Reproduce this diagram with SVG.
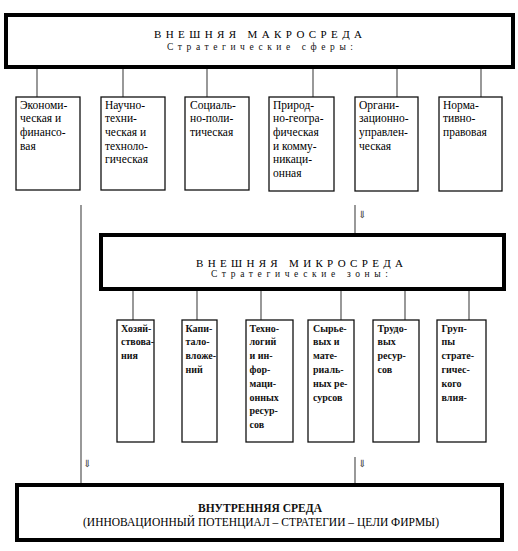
<svg xmlns="http://www.w3.org/2000/svg" width="518" height="551" viewBox="0 0 518 551">
<style>
.big{fill:#fff;stroke:#000;stroke-width:4}
.box{fill:#fff;stroke:#111;stroke-width:1.3}
.stem{stroke:#555;stroke-width:1.2;fill:none}
.r1{font-family:'Liberation Serif','DejaVu Serif',serif;font-size:11.5px;fill:#000}
.t{font-family:'Liberation Serif','DejaVu Serif',serif;font-size:10px;font-weight:bold;fill:#111}
.b{font-family:'Liberation Serif','DejaVu Serif',serif;font-size:11.5px;font-weight:bold;fill:#111}
.h{font-family:'Liberation Serif','DejaVu Serif',serif;font-size:11px;fill:#000}
.s{font-family:'Liberation Serif','DejaVu Serif',serif;font-size:9.5px;fill:#111}
.ar{font-family:'DejaVu Serif','DejaVu Sans',serif;font-size:10px;fill:#444}
</style>
<rect width="518" height="551" fill="#fff"/>
<g id="connectors">
<path class="stem" d="M37 68V97M123 68V97M207 68V97M313 68V97M397 68V97M481 68V97"/>
<path class="stem" d="M133 291V320M197 291V320M261 291V320M341 291V320M405 291V320M469 291V320"/>
<path class="stem" d="M81 205V483M355 205V233M355 457V483"/>
<text class="ar" x="358" y="218">⇓</text>
<text class="ar" x="83" y="467">⇓</text>
<text class="ar" x="358" y="467">⇓</text>
</g>
<g id="macro">
<rect class="big" x="6" y="15" width="507" height="52"/>
<text class="h" x="154" y="38" textLength="208" lengthAdjust="spacing">ВНЕШНЯЯ МАКРОСРЕДА</text>
<text class="s" x="167" y="49.5" textLength="186" lengthAdjust="spacing">Стратегические сферы:</text>
</g>
<g id="m1"><rect class="box" x="16" y="97" width="64" height="93"/>
<text class="r1" y="108.5"><tspan x="20">Экономи-</tspan><tspan x="20" dy="13.7">ческая и</tspan><tspan x="20" dy="13.7">финансо-</tspan><tspan x="20" dy="13.7">вая</tspan></text></g>
<g id="m2"><rect class="box" x="101" y="97" width="64" height="93"/>
<text class="r1" y="108.5"><tspan x="105">Научно-</tspan><tspan x="105" dy="13.7">техни-</tspan><tspan x="105" dy="13.7">ческая и</tspan><tspan x="105" dy="13.7">техноло-</tspan><tspan x="105" dy="13.7">гическая</tspan></text></g>
<g id="m3"><rect class="box" x="185" y="97" width="64" height="93"/>
<text class="r1" y="108.5"><tspan x="190">Социаль-</tspan><tspan x="190" dy="13.7">но-поли-</tspan><tspan x="190" dy="13.7">тическая</tspan></text></g>
<g id="m4"><rect class="box" x="269" y="97" width="65" height="94"/>
<text class="r1" y="108.5"><tspan x="273">Природ-</tspan><tspan x="273" dy="13.7">но-геогра-</tspan><tspan x="273" dy="13.7">фическая</tspan><tspan x="273" dy="13.7">и комму-</tspan><tspan x="273" dy="13.7">никаци-</tspan><tspan x="273" dy="13.7">онная</tspan></text></g>
<g id="m5"><rect class="box" x="355" y="97" width="63" height="94"/>
<text class="r1" y="108.5"><tspan x="359">Органи-</tspan><tspan x="359" dy="13.7">зационно-</tspan><tspan x="359" dy="13.7">управлен-</tspan><tspan x="359" dy="13.7">ческая</tspan></text></g>
<g id="m6"><rect class="box" x="439" y="97" width="63" height="94"/>
<text class="r1" y="108.5"><tspan x="443">Норма-</tspan><tspan x="443" dy="13.7">тивно-</tspan><tspan x="443" dy="13.7">правовая</tspan></text></g>
<g id="micro">
<rect class="big" x="101" y="235" width="403" height="54"/>
<text class="h" x="196" y="267" textLength="207" lengthAdjust="spacing">ВНЕШНЯЯ МИКРОСРЕДА</text>
<text class="s" x="211" y="276.5" textLength="177" lengthAdjust="spacing">Стратегические зоны:</text>
</g>
<g id="z1"><rect class="box" x="117" y="320" width="37" height="122"/>
<text class="t" y="331.5"><tspan x="121">Хозяй-</tspan><tspan x="121" dy="13.8">ствова-</tspan><tspan x="121" dy="13.8">ния</tspan></text></g>
<g id="z2"><rect class="box" x="182" y="320" width="35" height="122"/>
<text class="t" y="331.5"><tspan x="185.5">Капи-</tspan><tspan x="185.5" dy="13.8">тало-</tspan><tspan x="185.5" dy="13.8">вложе-</tspan><tspan x="185.5" dy="13.8">ний</tspan></text></g>
<g id="z3"><rect class="box" x="246" y="320" width="47" height="122"/>
<text class="t" y="331.5"><tspan x="249.5">Техно-</tspan><tspan x="249.5" dy="13.8">логий</tspan><tspan x="249.5" dy="13.8">и ин-</tspan><tspan x="249.5" dy="13.8">фор-</tspan><tspan x="249.5" dy="13.8">маци-</tspan><tspan x="249.5" dy="13.8">онных</tspan><tspan x="249.5" dy="13.8">ресур-</tspan><tspan x="249.5" dy="13.8">сов</tspan></text></g>
<g id="z4"><rect class="box" x="308" y="320" width="46" height="122"/>
<text class="t" y="331.5"><tspan x="313">Сырье-</tspan><tspan x="313" dy="13.8">вых и</tspan><tspan x="313" dy="13.8">мате-</tspan><tspan x="313" dy="13.8">риаль-</tspan><tspan x="313" dy="13.8">ных ре-</tspan><tspan x="313" dy="13.8">сурсов</tspan></text></g>
<g id="z5"><rect class="box" x="373" y="320" width="46" height="122"/>
<text class="t" y="331.5"><tspan x="377.5">Трудо-</tspan><tspan x="377.5" dy="13.8">вых</tspan><tspan x="377.5" dy="13.8">ресур-</tspan><tspan x="377.5" dy="13.8">сов</tspan></text></g>
<g id="z6"><rect class="box" x="437" y="320" width="49" height="122"/>
<text class="t" y="331.5"><tspan x="441.5">Груп-</tspan><tspan x="441.5" dy="13.8">пы</tspan><tspan x="441.5" dy="13.8">страте-</tspan><tspan x="441.5" dy="13.8">гичес-</tspan><tspan x="441.5" dy="13.8">кого</tspan><tspan x="441.5" dy="13.8">влия-</tspan></text></g>
<g id="internal">
<rect class="big" x="17" y="485" width="485" height="55"/>
<text class="b" x="260" y="512" text-anchor="middle">ВНУТРЕННЯЯ СРЕДА</text>
<text class="r1" x="261" y="525.5" text-anchor="middle">(ИННОВАЦИОННЫЙ ПОТЕНЦИАЛ – СТРАТЕГИИ – ЦЕЛИ ФИРМЫ)</text>
</g>
</svg>
